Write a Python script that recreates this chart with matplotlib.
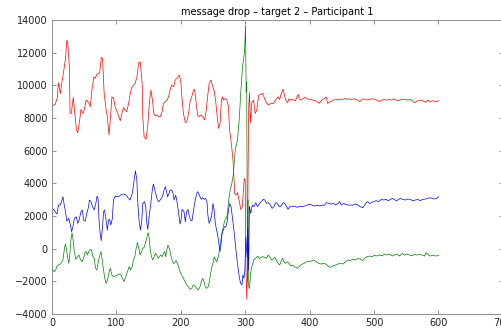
import matplotlib
matplotlib.use('Agg')
import matplotlib.pyplot as plt

# ===========================
# Data (rows of 10 so x and y stay aligned)
# ===========================

red_x = [0, 5, 8, 10, 13, 15.5, 18, 21, 23, 24.5,
         27, 28, 30, 33, 35, 38, 40, 43, 45, 48,
         50, 53, 57, 59.5, 62, 65, 67, 70, 74, 76.6,
         78.5, 81, 84, 86, 88.5, 90.5, 93, 95.7, 98, 102,
         106, 108.6, 111, 113.5, 116, 119, 121.6, 124, 126.7, 129,
         132, 134.5, 137, 140, 141, 143, 146, 148.5, 151.6, 153.6,
         156, 158, 160.5, 163, 165.5, 168, 171, 173, 176, 178.5,
         181, 183.6, 186, 189, 191.4, 194, 197.6, 200, 201.7, 204,
         207, 209.5, 212, 214.7, 217, 220, 221.5, 224, 226, 228.7,
         231.5, 234, 237, 239.5, 241.6, 244, 246.8, 249, 251.5, 254,
         256, 258.7, 261, 263, 265, 266, 269, 271.6, 274, 275.7,
         277.8, 279, 281, 282.5, 283.5, 286, 288, 291, 293, 295.5,
         298.5, 300, 301, 302.5, 303.5, 304.5, 305.5, 306.7, 307.5, 308.5,
         310, 313, 315.5, 318, 321, 324.5, 327, 330, 333, 336,
         340, 344, 347, 351, 353.5, 356, 359, 360.5, 363, 366,
         368, 371.5, 374, 378, 382, 384.5, 387, 390, 393, 397,
         401, 405, 409, 412, 415, 419, 423, 426, 428, 432,
         437, 440.5, 444, 446, 450, 454, 457.5, 461.5, 465, 469,
         474, 478, 482, 486, 490, 493.5, 497, 501, 504, 508.5,
         512, 516, 520, 523, 526.5, 531, 534.5, 538, 541, 545,
         549, 552.5, 556, 559.5, 563, 565.5, 568, 572, 576, 580,
         583.5, 588, 591, 597, 600.5]
red_y = [8700, 8860, 9200, 10160, 9500, 10220, 10840, 11650, 12780, 12570,
         11140, 8290, 8290, 9270, 8490, 7270, 7100, 7880, 8530, 8290,
         8490, 9100, 8940, 8700, 9720, 10530, 10430, 10700, 10780, 11720,
         11650, 9500, 8490, 8080, 6960, 7880, 9300, 9200, 8700, 8290,
         7840, 8290, 8650, 8490, 8390, 8900, 9500, 9880, 10020, 10120,
         10530, 11390, 11450, 10120, 8080, 6860, 6700, 7470, 9100, 9720,
         9100, 8290, 8130, 8190, 8080, 8080, 8390, 8900, 9000, 9100,
         9300, 9760, 10020, 9920, 10330, 10430, 10640, 10220, 9300, 8290,
         7720, 7780, 8290, 9100, 9300, 9760, 9720, 8900, 8190, 8080,
         8190, 8080, 7880, 8490, 9300, 10120, 10330, 10020, 9720, 9100,
         8290, 7370, 7680, 9100, 9300, 9100, 9200, 9100, 8700, 7270,
         6660, 6250, 5430, 4400, 3390, 3280, 3430, 2880, 2400, 2570,
         4300, 4200, -1000, -3100, -1500, 5000, 8700, 9550, 8400, 7700,
         8900, 9100, 8290, 8490, 9410, 9450, 9510, 9200, 8940, 8800,
         8900, 8900, 9100, 9300, 9140, 9510, 9760, 9470, 9100, 8940,
         9180, 9100, 9140, 9060, 9450, 9140, 9100, 9200, 9270, 9160,
         9160, 9100, 9060, 9000, 8900, 9100, 9200, 9270, 8900, 9000,
         9100, 9160, 9100, 9160, 9140, 9180, 9160, 9180, 9140, 9180,
         9100, 9000, 9160, 9160, 9100, 9140, 9180, 9160, 9100, 9020,
         9100, 9140, 9100, 9140, 9100, 9180, 9100, 9060, 9120, 9160,
         9140, 9100, 9140, 9060, 8940, 9000, 9060, 9100, 9060, 8960,
         9100, 9000, 9060, 9000, 9060]

blue_x = [0, 2.5, 5, 7.7, 10, 12.8, 15.5, 17, 19, 21,
          23, 26, 28, 30.5, 32.5, 34.6, 37.7, 40, 42, 45,
          47, 49, 51.6, 54, 56.8, 58, 60.5, 63, 65.6, 68,
          70, 71.5, 73, 75, 76.4, 78.5, 80, 81.5, 84, 86,
          87.8, 89.5, 91.4, 93.5, 95.5, 98, 100.7, 104.5, 108.4, 112,
          115, 118.8, 121, 124, 125.5, 127.5, 129.6, 131.7, 133, 135,
          137.4, 139.4, 141, 143.6, 145.6, 147, 148.7, 150.8, 153.4, 156,
          157.5, 159.6, 161.7, 163.7, 166, 168.7, 171.4, 174, 176, 178,
          179.5, 181.8, 183.3, 186, 188, 189.5, 192, 193.5, 196, 198.8,
          200.3, 202, 205, 207, 209, 211, 213, 215, 217.4, 219.4,
          221.5, 223.6, 225.7, 227.7, 229.8, 231.9, 234, 236.5, 238.5, 240.6,
          242, 244, 246, 248, 250, 251.8, 253.5, 255.6, 257.7, 259,
          260.8, 262.3, 264, 266, 268, 270, 272, 274, 276, 278,
          280, 283, 285.6, 288, 290.7, 292.8, 295, 296.4, 298, 299.5,
          301, 302, 303, 304, 305.3, 306.5, 307.5, 308.5, 311, 313.5,
          316.5, 319, 321.7, 325, 327.9, 330.5, 333, 336, 339, 341.8,
          344.5, 347.5, 350, 352.6, 356, 358.8, 361.5, 364, 366.6, 369,
          373, 377, 381, 384.7, 388.8, 392.4, 396, 400, 404, 408,
          412, 415.6, 419.5, 423.4, 426, 430, 433.7, 437.3, 440.4, 444,
          446.6, 449.2, 452.8, 456, 459.5, 463, 467, 471.4, 475, 478.6,
          482.8, 485.5, 488, 490.5, 493, 495.7, 499.3, 503.4, 507.6, 511.2,
          514.8, 519, 521.5, 524, 528.2, 531.8, 534.4, 537, 540.6, 544.7,
          548.9, 552.5, 556, 560.2, 564.4, 568, 571.6, 575.8, 579.9, 583.5,
          587, 591, 594.3, 597.4, 600.5]
blue_y = [2370, 2410, 2260, 2120, 2670, 2670, 2980, 3180, 2670, 2260,
          1690, 1860, 1550, 1040, 1350, 1860, 1960, 1550, 1750, 2260,
          2370, 1750, 1690, 2160, 2570, 2980, 2880, 2570, 2370, 2770,
          3220, 3080, 1750, 840, 490, 1350, 2260, 2370, 1750, 1140,
          1750, 1800, 1450, 1800, 2980, 3220, 3180, 3220, 3330, 3350,
          3280, 3080, 2980, 3280, 3590, 4200, 4770, 4200, 2980, 1750,
          1140, 1750, 2770, 2880, 2570, 1650, 1180, 1960, 2770, 3690,
          3960, 3590, 3280, 2980, 2880, 3020, 3180, 3590, 3800, 3490,
          3180, 3390, 3590, 3590, 3390, 2980, 3280, 3020, 2370, 1510,
          1750, 2410, 2260, 1650, 2260, 2410, 2060, 1750, 1710, 2260,
          2770, 3180, 3490, 3390, 3180, 3020, 3120, 3020, 3080, 2880,
          2060, 1550, 1750, 2060, 2770, 2370, 1550, 1140, 730, 330,
          -180, 220, 940, 1140, 1350, 1350, 1650, 2370, 2770, 2570,
          1960, 940, -80, -900, -1710, -2120, -2220, -1610, -1820, -1310,
          730, 0, -500, 1200, -1300, 2600, 2370, 2160, 2670, 2570,
          2820, 2570, 2730, 2880, 3020, 2980, 2770, 2820, 2670, 2470,
          2570, 2820, 2770, 2570, 2610, 2820, 2770, 2610, 2410, 2570,
          2570, 2610, 2530, 2610, 2570, 2610, 2670, 2730, 2670, 2610,
          2670, 2610, 2670, 2670, 2820, 2770, 2730, 2770, 2670, 2770,
          2880, 2670, 2770, 2710, 2670, 2670, 2670, 2730, 2670, 2570,
          2510, 2670, 2820, 2880, 2770, 2820, 2880, 2940, 2880, 3020,
          2980, 3020, 2940, 2980, 3080, 3020, 2920, 2980, 3080, 3020,
          2980, 3040, 3020, 2940, 2980, 3020, 2940, 3020, 3040, 3080,
          3120, 3080, 3040, 3080, 3180]

green_x = [0, 1.5, 3.6, 5.6, 7.7, 10, 12.8, 15.5, 17, 19,
           20.6, 22, 24, 26, 27.4, 29.4, 31, 32.5, 34.6, 37,
           39.8, 42, 44, 46.5, 49, 51, 53, 55, 57, 59.4,
           61.5, 63.5, 65.6, 67.6, 69.7, 71.8, 73.8, 76, 78, 80,
           82, 84, 86, 88.3, 90.4, 93, 95.5, 98, 101.7, 104.8,
           107, 109.5, 112, 114.6, 117.2, 119.8, 121.9, 124.5, 126.5, 128.6,
           130.6, 132.7, 134.8, 136.8, 139, 141, 143, 145, 147, 149.2,
           150.8, 152.3, 154.4, 156.5, 158.5, 160.6, 162.7, 164.7, 166.8, 168.9,
           171, 173, 175, 176.5, 178, 180, 182.3, 184.4, 186.4, 188.5,
           190.5, 192.6, 194.7, 196.7, 198.8, 201.4, 204, 206.6, 209, 211.7,
           214.3, 216.9, 219.5, 222, 224.6, 227.2, 229.8, 231.9, 234, 236,
           238, 240, 242.7, 244.3, 246.3, 248.4, 250.5, 252, 254, 256,
           258.2, 260, 262.3, 264.4, 266.5, 268.5, 270.6, 272.6, 274, 275.8,
           277.3, 278.8, 281.4, 284.5, 288, 291, 293, 295.9, 299, 300.5,
           301.5, 302.3, 303.5, 304.5, 305.5, 306.7, 308.3, 310, 313.4, 317,
           319.5, 322, 324.5, 327, 330.5, 333, 335.6, 338, 340.8, 343.5,
           346, 348.5, 351, 353.6, 356.3, 358, 360.4, 363, 365.6, 368,
           370.7, 373.3, 375.9, 378.5, 381, 383.6, 386.2, 388.8, 391.4, 395,
           399, 402.7, 406.4, 410.5, 414, 418.2, 421.8, 425, 428.6, 432.2,
           436.3, 440.4, 444, 447.7, 451.8, 456, 459.5, 463, 467.3, 471.4,
           475, 478.6, 482.8, 485.4, 489, 493, 497.2, 500.8, 504.5, 508.6,
           512.7, 516.3, 519.9, 524, 528.2, 531.8, 535.4, 539.6, 543.7, 547.3,
           551, 555.1, 559.2, 562.8, 566.4, 570.6, 574.7, 578.3, 580.9, 583.5,
           587, 591.2, 595.4, 600.5]
green_y = [-1060, -1310, -1410, -1310, -1060, -1000, -940, -800, -690, -80,
           290, 80, -490, -900, -490, 530, 980, 630, -180, -650,
           -490, -390, -650, -800, -590, -240, -180, -390, -180, -40,
           -120, -490, -590, -1200, -1310, -800, -490, -180, -690, -1310,
           -1820, -2120, -1920, -1510, -1200, -1610, -1710, -1670, -1610, -1550,
           -1610, -1820, -2020, -1710, -1410, -1100, -1310, -1100, -690, -490,
           20, 370, 20, -390, -180, 20, 80, 330, 630, 980,
           730, 20, -490, -690, -490, -290, -390, -590, -490, -390,
           -490, -290, -180, -490, -120, 220, 20, -390, -690, -900,
           -860, -730, -900, -1100, -1410, -1610, -1820, -2020, -2220, -2330,
           -2490, -2430, -2220, -2290, -2430, -2530, -2330, -2020, -1820, -2020,
           -2330, -2430, -2330, -2020, -1510, -1100, -800, -490, -690, -800,
           -490, -80, 530, 1040, 1450, 1750, 1860, 2160, 2880, 3390,
           3690, 3900, 4510, 6040, 6660, 8080, 9510, 11140, 12060, 13700,
           9600, 10200, -2000, 3000, -2300, -2440, -1500, -1140, -690, -560,
           -450, -610, -530, -490, -530, -590, -390, -490, -690, -630,
           -530, -730, -900, -1000, -730, -590, -800, -900, -800, -900,
           -1060, -1000, -1100, -1140, -1200, -1100, -1000, -940, -900, -800,
           -800, -750, -690, -800, -900, -940, -900, -940, -1060, -1140,
           -1060, -1000, -940, -900, -940, -800, -690, -730, -650, -690,
           -590, -650, -730, -590, -490, -450, -490, -390, -450, -390,
           -430, -330, -390, -330, -450, -390, -330, -450, -290, -390,
           -330, -390, -430, -350, -390, -350, -390, -450, -240, -330,
           -450, -410, -450, -410]

TITLE = 'message drop \u2013 target 2 \u2013 Participant 1'
X_TICKS = [0, 100, 200, 300, 400, 500, 600, 700]
Y_TICKS = [-4000, -2000, 0, 2000, 4000, 6000, 8000, 10000, 12000, 14000]

# ===========================
# Figure
# ===========================

plt.rcParams['font.family'] = ['DejaVu Sans']
plt.rcParams['font.size'] = 7

fig = plt.figure(figsize=(5.02, 3.28), dpi=100)
# right edge sits just past the picture, as in the reference crop
ax = fig.add_axes([0.1036, 0.0427, 0.898, 0.896])

ax.plot(red_x, red_y, color='#ff0000', lw=0.5)
ax.plot(green_x, green_y, color='#008000', lw=0.5)
ax.plot(blue_x, blue_y, color='#0000ff', lw=0.5)

ax.set_xlim(0, 700)
ax.set_ylim(-4000, 14000)
ax.set_xticks(X_TICKS)
ax.set_yticks(Y_TICKS)
ax.set_yticklabels([str(v).replace('-', '\u2212') for v in Y_TICKS])
ax.tick_params(direction='in', length=3, width=0.6, color='#808080',
               top=True, right=True, pad=3, labelcolor='#222222')
for s in ax.spines.values():
    s.set_color('#909090')
    s.set_linewidth(0.7)

ax.set_title(TITLE, fontsize=7, pad=4)

plt.savefig('out.png', dpi=100)
plt.close()
